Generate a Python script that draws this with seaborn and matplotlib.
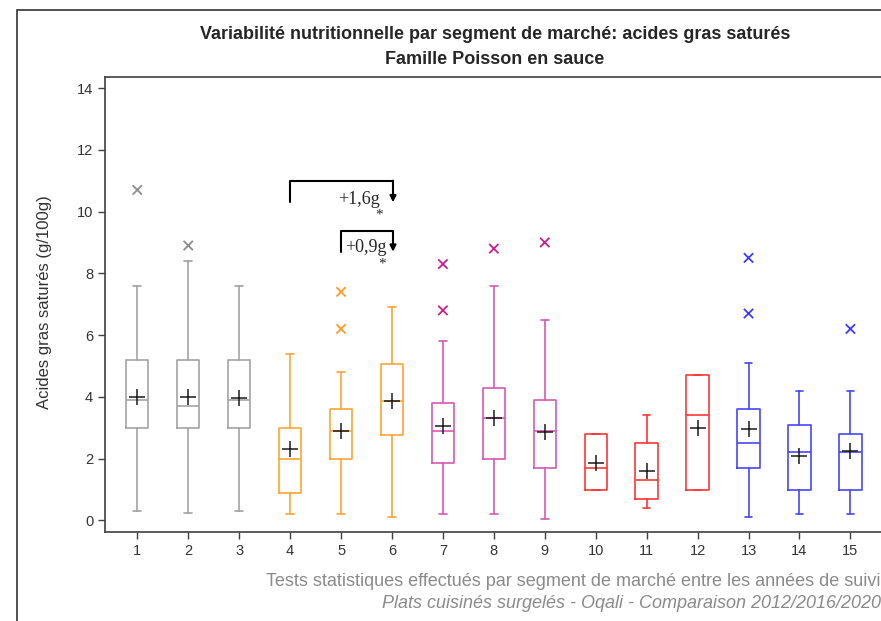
import numpy as np
import pandas as pd
import matplotlib.pyplot as plt
import seaborn as sns
from matplotlib.patches import Rectangle

# -- data -----------------------------------------------------------------
segments = list(range(1, 16))
whislo = [0.3, 0.25, 0.3, 0.2, 0.2, 0.1, 0.2, 0.2, 0.05, 1.0, 0.4, 1.0, 0.1, 0.2, 0.2]
q1 = [3.0, 3.0, 3.0, 0.9, 2.0, 2.75, 1.85, 2.0, 1.7, 1.0, 0.7, 1.0, 1.7, 1.0, 1.0]
med = [3.9, 3.7, 3.9, 2.0, 2.9, 3.85, 2.9, 3.3, 2.9, 1.7, 1.3, 3.4, 2.5, 2.2, 2.2]
q3 = [5.2, 5.2, 5.2, 3.0, 3.6, 5.05, 3.8, 4.3, 3.9, 2.8, 2.5, 4.7, 3.6, 3.1, 2.8]
whishi = [7.6, 8.4, 7.6, 5.4, 4.8, 6.9, 5.8, 7.6, 6.5, 2.8, 3.4, 4.7, 5.1, 4.2, 4.2]
means = [4.0, 4.0, 3.95, 2.3, 2.9, 3.85, 3.05, 3.3, 2.85, 1.85, 1.6, 3.0, 2.95, 2.1, 2.25]
outliers = [[10.7], [8.9], [], [], [7.4, 6.2], [], [8.3, 6.8], [8.8], [9.0],
            [], [], [], [8.5, 6.7], [], [6.2]]
groups = ["gris"] * 3 + ["orange"] * 3 + ["magenta"] * 3 + ["rouge"] * 3 + ["bleu"] * 3

box_colors = {"gris": "#a3a3a3", "orange": "#ffa436", "magenta": "#d659b5",
              "rouge": "#ff3535", "bleu": "#4646ff"}
out_colors = {"gris": "#8c8c8c", "orange": "#ff9a2a", "magenta": "#c81e8e",
              "rouge": "#ff3535", "bleu": "#3a3aff"}

title = "Variabilité nutritionnelle par segment de marché: acides gras saturés\nFamille Poisson en sauce"
ylabel = "Acides gras saturés (g/100g)"
foot1 = "Tests statistiques effectués par segment de marché entre les années de suivi"
foot2 = "Plats cuisinés surgelés - Oqali - Comparaison 2012/2016/2020"

# -- figure ----------------------------------------------------------------
sns.set_theme(style="ticks")
plt.rcParams["font.family"] = ["Liberation Sans", "DejaVu Sans"]

W, H = 881, 621
fig = plt.figure(figsize=(W / 100, H / 100), dpi=100)
ax = fig.add_axes([105 / W, (H - 532) / H, 778 / W, 455 / H])

stats = []
for i in range(15):
    stats.append(dict(whislo=whislo[i], q1=q1[i], med=med[i], q3=q3[i],
                      whishi=whishi[i], fliers=[], label=str(segments[i])))

for i, st in enumerate(stats):
    c = box_colors[groups[i]]
    ax.bxp([st], positions=[segments[i]], widths=0.44, showfliers=False,
           capwidths=0.15, manage_ticks=False,
           boxprops=dict(color=c, lw=1.2),
           whiskerprops=dict(color=c, lw=1.2),
           capprops=dict(color=c, lw=1.2),
           medianprops=dict(color=c, lw=1.2))

# outliers
out_df = pd.DataFrame([(segments[i], v, groups[i]) for i in range(15) for v in outliers[i]],
                      columns=["segment", "valeur", "groupe"])
sns.scatterplot(data=out_df, x="segment", y="valeur", hue="groupe", palette=out_colors,
                marker="x", s=45, linewidth=1.3, legend=False, ax=ax)

# means
mean_df = pd.DataFrame({"segment": segments, "moyenne": means})
sns.scatterplot(data=mean_df, x="segment", y="moyenne", marker="+", color="#1a1a1a",
                s=130, linewidth=1.1, legend=False, ax=ax, zorder=5)

# significance brackets
for x0, y0, ytop, lab, tx, ty, sx, sy in [
        (4, 10.3, 11.0, "+1,6g", 5.77, 10.4, 5.74, 9.9),
        (5, 8.7, 9.36, "+0,9g", 5.89, 8.85, 5.8, 8.3)]:
    ax.plot([x0, x0, 6.02], [y0, ytop, ytop], color="black", lw=1.5)
    ax.annotate("", xy=(6.02, y0), xytext=(6.02, ytop),
                arrowprops=dict(arrowstyle="-|>", color="black", lw=1.5,
                                shrinkA=0, shrinkB=0, mutation_scale=9))
    ax.text(tx, ty, lab, ha="right", va="center", fontsize=13,
            family=["Liberation Serif", "DejaVu Serif"])
    ax.text(sx, sy, "*", ha="center", va="center", fontsize=11,
            family=["Liberation Serif", "DejaVu Serif"])

ax.set_xlim(0.366, 15.64)
ax.set_ylim(-0.376, 14.357)
ax.set_xticks(segments)
ax.set_yticks(range(0, 15, 2))
ax.set_xlabel("")
ax.set_ylabel("")
ax.tick_params(labelsize=10.5, labelcolor="#333333", color="#404040",
               length=5, width=1)
for side in ["left", "bottom", "top", "right"]:
    ax.spines[side].set_color("#404040")
    ax.spines[side].set_linewidth(1.2)

fig.text(45 / W, 1 - 302 / H, ylabel, rotation=90, ha="center", va="center",
         fontsize=12, color="#333333")
fig.text(495 / W, 1 - 47 / H, title, ha="center", va="center", fontsize=13,
         fontweight="bold", linespacing=1.6,
         family=["Liberation Sans Narrow", "Liberation Sans"])
fig.text(881 / W, 1 - 582 / H, foot1, ha="right", va="center", fontsize=13,
         color="#8a8a8a")
fig.text(881 / W, 1 - 604 / H, foot2, ha="right", va="center", fontsize=13,
         color="#8a8a8a", style="italic")

# outer frame of the original export
fig.add_artist(Rectangle((17 / W, -0.1), 1.0, 1 - 10 / H + 0.1,
                         transform=fig.transFigure, fill=False,
                         edgecolor="#333333", lw=1.2))

fig.savefig("out.png", dpi=100, facecolor="white")
